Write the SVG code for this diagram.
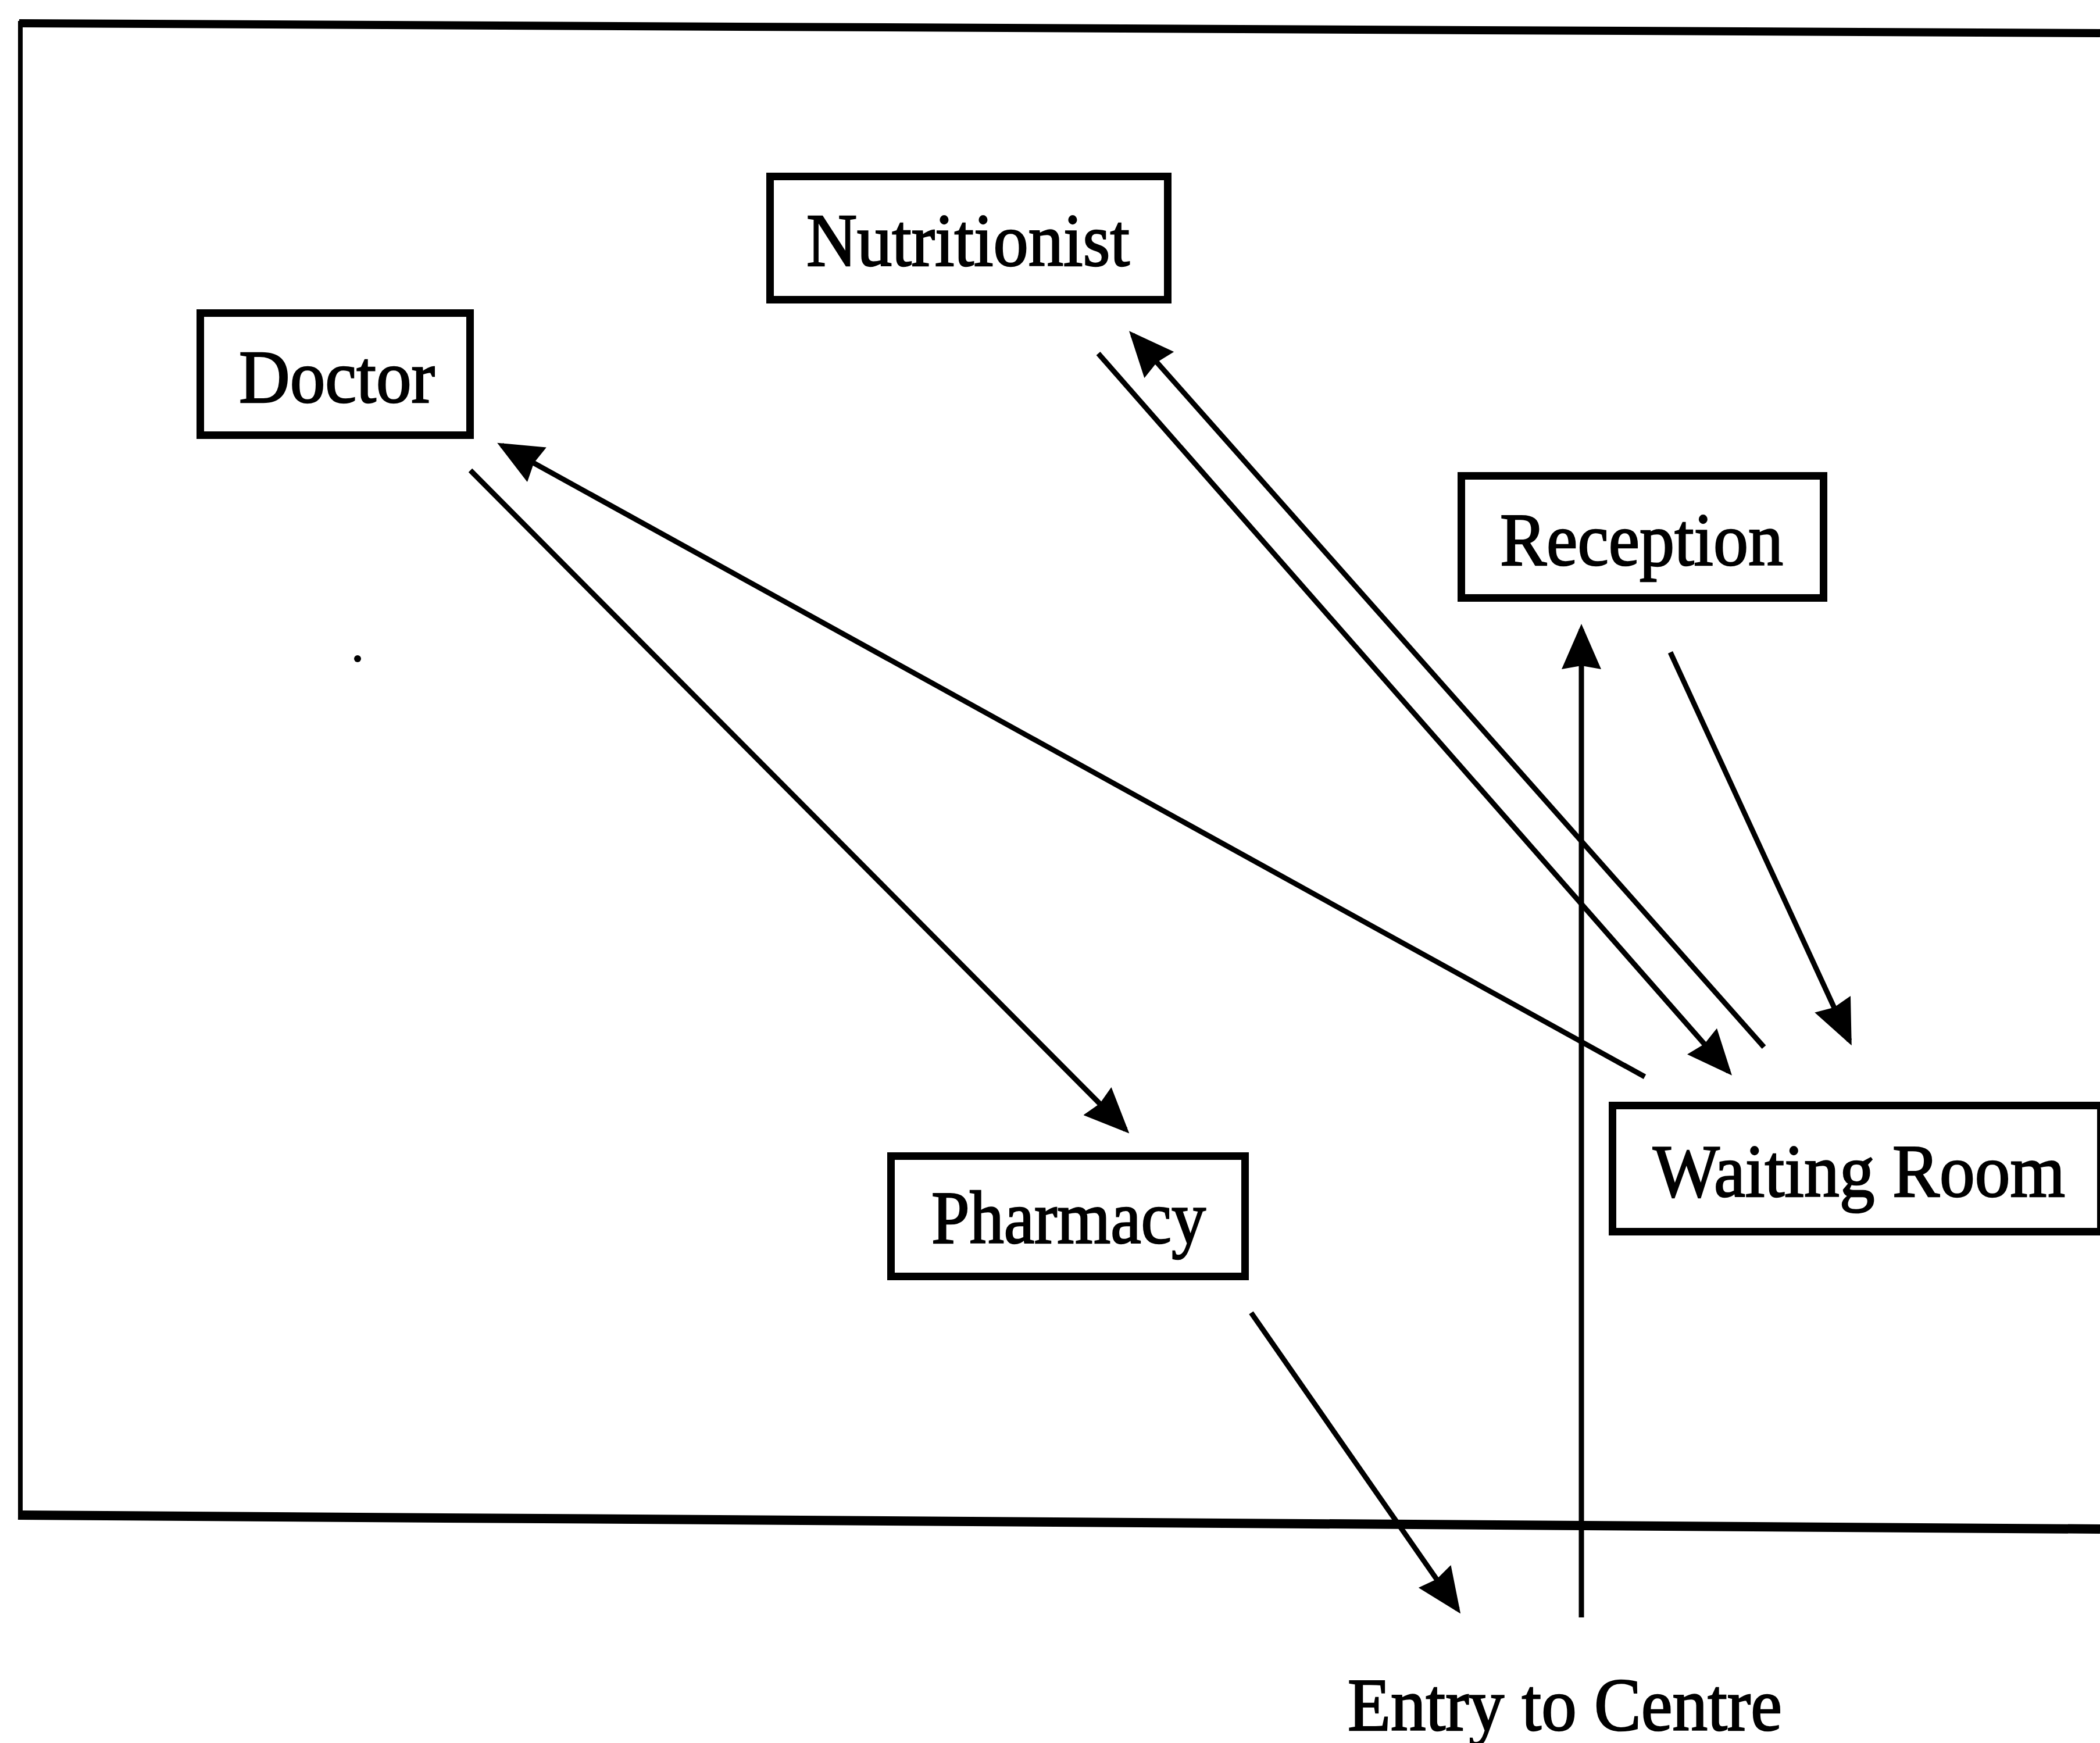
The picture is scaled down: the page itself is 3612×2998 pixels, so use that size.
<svg xmlns="http://www.w3.org/2000/svg" width="3612" height="2998" viewBox="0 0 3612 2998">
  <style>
    .box { fill: #fff; stroke: #000; stroke-width: 13; }
    .label { font-family: "Liberation Serif", "Times New Roman", serif; font-size: 130px; fill: #000; stroke: #000; stroke-width: 2.5; }
    .flow { stroke: #000; stroke-width: 9; fill: none; marker-end: url(#head); }
    .wall { stroke: #000; fill: none; }
  </style>
  <defs>
    <marker id="head" viewBox="0 0 78 68" markerWidth="78" markerHeight="68" refX="69" refY="34" orient="auto" markerUnits="userSpaceOnUse">
      <path d="M0,0 L78,34 L0,68 L6,34 z" fill="#000"/>
    </marker>
  </defs>
  <rect width="3612" height="2998" fill="#fff"/>

  <!-- outer wall of the centre -->
  <g id="walls">
    <line class="wall" x1="33" y1="40" x2="3612" y2="57" stroke-width="14"/>
    <line class="wall" x1="35" y1="36" x2="35" y2="2612" stroke-width="8"/>
    <line class="wall" x1="31" y1="2606" x2="3612" y2="2630" stroke-width="16"/>
    <circle cx="615" cy="1133" r="6" fill="#000"/>
  </g>

  <!-- movement between rooms -->
  <g id="connectors">
    <line class="flow" x1="809" y1="809" x2="1936" y2="1943"/>
    <line class="flow" x1="2829" y1="1852" x2="863" y2="766"/>
    <line class="flow" x1="1889" y1="608" x2="2973" y2="1843"/>
    <line class="flow" x1="3034" y1="1801" x2="1948" y2="576"/>
    <line class="flow" x1="2873" y1="1122" x2="3181" y2="1790"/>
    <line class="flow" x1="2720" y1="2782" x2="2720" y2="1082"/>
    <line class="flow" x1="2152" y1="2258" x2="2507" y2="2768"/>
  </g>

  <g id="nutritionist">
    <rect class="box" x="1324.5" y="303.5" width="684" height="212"/>
    <text class="label" x="1387" y="457" textLength="556" lengthAdjust="spacingAndGlyphs">Nutritionist</text>
  </g>

  <g id="doctor">
    <rect class="box" x="344.5" y="538.5" width="464" height="210"/>
    <text class="label" x="411" y="692" textLength="337" lengthAdjust="spacingAndGlyphs">Doctor</text>
  </g>

  <g id="reception">
    <rect class="box" x="2513.5" y="818.5" width="623" height="210"/>
    <text class="label" x="2580" y="972" textLength="487" lengthAdjust="spacingAndGlyphs">Reception</text>
  </g>

  <g id="pharmacy">
    <rect class="box" x="1532.5" y="1988.5" width="609" height="207"/>
    <text class="label" x="1602" y="2138" textLength="472" lengthAdjust="spacingAndGlyphs">Pharmacy</text>
  </g>

  <g id="waiting-room">
    <rect class="box" x="2773.5" y="1901.5" width="840" height="217"/>
    <text class="label" x="2843" y="2058" textLength="709" lengthAdjust="spacingAndGlyphs">Waiting Room</text>
  </g>

  <g id="entry">
    <text class="label" x="2318" y="2976" textLength="747" lengthAdjust="spacingAndGlyphs">Entry to Centre</text>
  </g>
</svg>
